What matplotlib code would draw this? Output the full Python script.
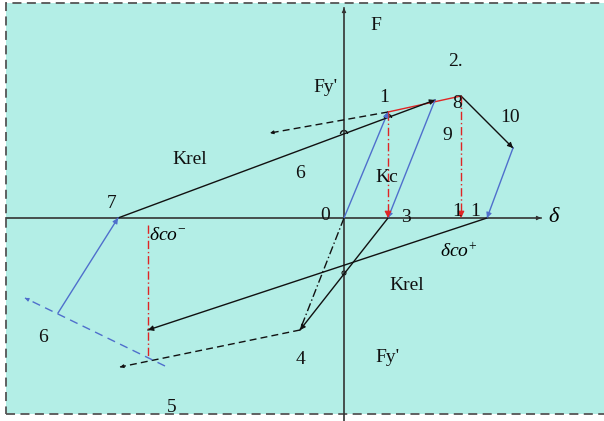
import matplotlib.pyplot as plt
from matplotlib.patches import Rectangle, Arc
import numpy as np

plt.rcParams['font.family'] = ['Liberation Serif', 'DejaVu Serif']
plt.rcParams['mathtext.fontset'] = 'custom'
plt.rcParams['mathtext.rm'] = 'Liberation Serif'
plt.rcParams['mathtext.it'] = 'Liberation Serif:italic'

# vertices of the load path (delta, F)
p0 = (0, 0)
p1 = (44, 106)
p8 = (117, 122)
p10 = (169, 70)
p11 = (143, 0)
p3 = (44, 0)
p4 = (-44, -112)
p5 = (-224, -149)
p6 = (-286, -95)
p7 = (-226, 0)
q_top = (91, 118)          # reload branch reaching the hardening line
q_left = (-74, 85)         # dashed extension of the yield line
q_low = (-196, -112)       # end of the lower Krel branch
blue_dash = [(-319, -80), (-179, -148)]
dco_minus = -196
dco_minus_span = (-7, -139)

labels = [
    ("F", (32, 193)), ("Fy'", (-19, 131)), ("1", (40, 121)), ("2.", (111, 156)),
    ("8", (113, 115)), ("10", (166, 100)), ("9", (103, 83)), ("Kc", (43, 41)),
    ("6", (-44, 45)), ("Krel", (-154, 58)), ("7", (-232, 15)), ("0", (-19, 2)),
    ("3", (62, 1)), ("1", (113, 7)), ("1", (131, 7)), ("Krel", (63, -67)),
    ("Fy'", (43, -139)), ("6", (-301, -120)), ("4", (-44, -142)), ("5", (-172, -189)),
]

blue = '#4f6fcc'
red = '#e02424'
black = '#111111'

fig = plt.figure(figsize=(6.04, 4.21), dpi=100)
ax = fig.add_axes([0, 0, 1, 1])
ax.set_xlim(-344, 260)
ax.set_ylim(-203, 218)
ax.axis('off')

ax.add_patch(Rectangle((-338, -196), 640, 411, facecolor='#b3eee6',
                       edgecolor='#555555', ls=(0, (5, 3)), lw=1.3, zorder=0))


def head(p, q, color, size=8):
    p, q = np.array(p, float), np.array(q, float)
    d = (q - p) / np.hypot(*(q - p))
    ax.annotate('', xy=q, xytext=q - d * 4,
                arrowprops=dict(arrowstyle='-|>', color=color, lw=0.8,
                                mutation_scale=size, shrinkA=0, shrinkB=0))


def seg(p, q, color=black, ls='-', arrow=True, lw=1.0, size=8):
    ax.plot([p[0], q[0]], [p[1], q[1]], color=color, ls=ls, lw=lw)
    if arrow:
        head(p, q, color, size)


# coordinate axes
seg((-338, 0), (197, 0), color='#333333', lw=1.2, size=6)
seg((0, -203), (0, 210), color='#333333', lw=1.2, size=6)

# loading / unloading branches
seg(p0, p1, blue)
seg(p1, p8, red, arrow=False)
seg(p7, q_top, black)
seg(p1, q_left, black, ls=(0, (5, 3)), size=5)
seg(q_top, p3, blue)
seg(p8, p10, black)
seg(p10, p11, blue)
seg(p11, q_low, black)
seg(p3, p4, black)
seg(p0, p4, black, ls=(0, (6, 2, 1, 2)), arrow=False)
seg(p4, p5, black, ls=(0, (5, 3)), size=5)
seg(blue_dash[1], blue_dash[0], blue, ls=(0, (6, 4)), size=5)
seg(p6, p7, blue)

# vertical projections of the yield points
seg(p1, p3, red, ls=(0, (6, 2, 1, 2)), size=10)
seg(p8, (p8[0], 0), red, ls=(0, (6, 2, 1, 2)), size=10)
ax.plot([dco_minus, dco_minus], dco_minus_span, color=red, ls=(0, (6, 2, 1, 2)), lw=1.0)

# small jumps where lines cross
for c in [(0, 84), (44, 100)]:
    ax.add_patch(Arc(c, 7, 7, theta1=0, theta2=180, color=black, lw=1.0))
ax.add_patch(Arc((0, -55), 4, 4, color=black, lw=0.8))

for s, (x, y) in labels:
    ax.text(x, y, s, fontsize=14, ha='center', va='center', color=black)

ax.text(210, 0, r'$\delta$', fontsize=16, ha='center', va='center')
ax.text(-176, -17, r'$\delta co^{-}$', fontsize=14, ha='center', va='center')
ax.text(115, -34, r'$\delta co^{+}$', fontsize=14, ha='center', va='center')

fig.savefig('out.png', dpi=100)
